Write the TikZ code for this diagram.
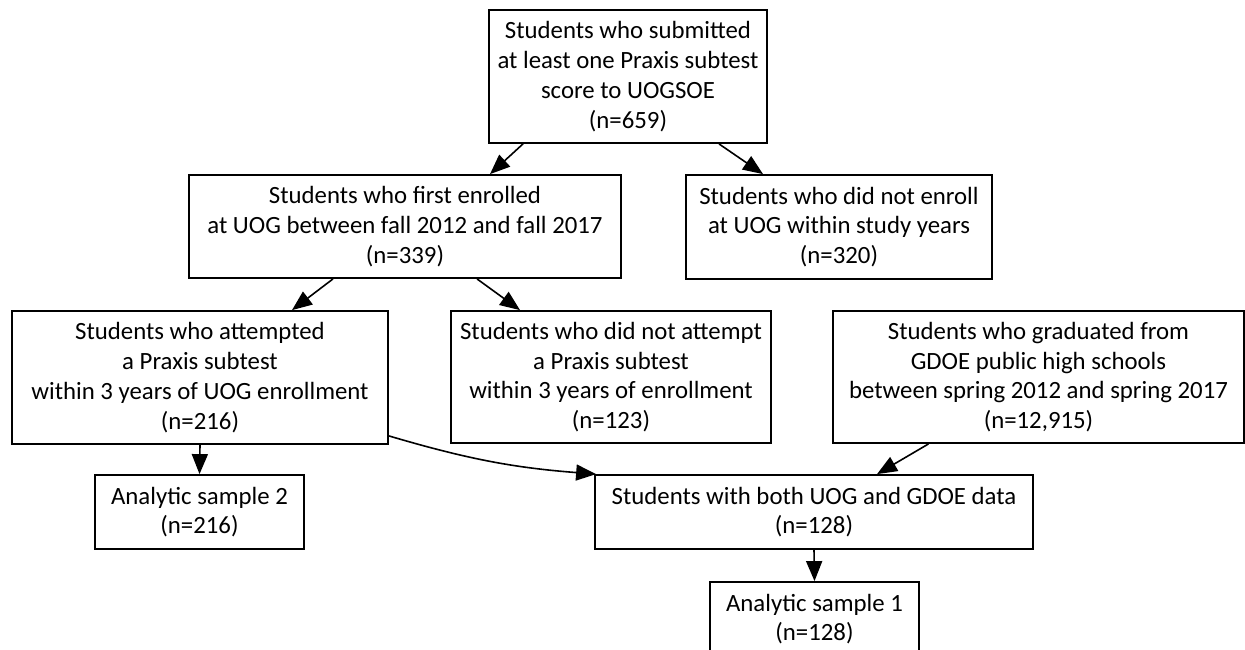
\documentclass[tikz,border=0pt]{standalone}
\usepackage{fontspec}
\setmainfont{Carlito}
\usetikzlibrary{arrows.meta}

\tikzset{
  box/.style={draw, line width=0.9pt, align=center, inner sep=0pt,
    font=\fontsize{12.4}{14.9}\selectfont},
  arr/.style={line width=0.8pt, -{Triangle[length=10pt,width=8pt]}}
}

\begin{document}
\begin{tikzpicture}[x=0.5pt,y=-0.5pt]
\useasboundingbox (0,0) rectangle (1245,649);

\node[box, minimum width=139pt, minimum height=66.5pt] (submitted) at (628,76.5)
  {Students who submitted\\at least one Praxis subtest\\score to UOGSOE\\(n=659)};
\node[box, minimum width=216pt, minimum height=51.5pt] (enrolled) at (405,226.5)
  {Students who first enrolled\\at UOG between fall 2012 and fall 2017\\(n=339)};
\node[box, minimum width=153pt, minimum height=52pt] (notenrolled) at (839,227)
  {Students who did not enroll\\at UOG within study years\\(n=320)};
\node[box, minimum width=188pt, minimum height=66.5pt] (attempted) at (200,377.5)
  {Students who attempted\\a Praxis subtest\\within 3 years of UOG enrollment\\(n=216)};
\node[box, minimum width=160pt, minimum height=66pt] (notattempted) at (611,377)
  {Students who did not attempt\\a Praxis subtest\\within 3 years of enrollment\\(n=123)};
\node[box, minimum width=205.5pt, minimum height=66pt] (gdoe) at (1038.5,377)
  {Students who graduated from\\GDOE public high schools\\between spring 2012 and spring 2017\\(n=12,915)};
\node[box, minimum width=104.5pt, minimum height=37pt] (sample2) at (199.5,512)
  {Analytic sample 2\\(n=216)};
\node[box, minimum width=219pt, minimum height=37pt] (both) at (814,512)
  {Students with both UOG and GDOE data\\(n=128)};
\node[box, minimum width=104.5pt, minimum height=37pt] (sample1) at (814.5,619)
  {Analytic sample 1\\(n=128)};

% connectors
\draw[arr] ([xshift=-52.5pt]submitted.south) -- ([xshift=42.5pt]enrolled.north);
\draw[arr] ([xshift=45.5pt]submitted.south) -- ([xshift=-38pt]notenrolled.north);
\draw[arr] ([xshift=-36pt]enrolled.south) -- ([xshift=46pt]attempted.north);
\draw[arr] ([xshift=36pt]enrolled.south) -- ([xshift=-45.5pt]notattempted.north);
\draw[arr] (attempted.south) -- (sample2.north);
\draw[arr] ([yshift=4.5pt]attempted.south east) to[bend right=6] ([xshift=1pt]both.north west);
\draw[arr] ([xshift=-55pt]gdoe.south) -- ([xshift=31.5pt]both.north);
\draw[arr] (both.south) -- (sample1.north);
\end{tikzpicture}
\end{document}
